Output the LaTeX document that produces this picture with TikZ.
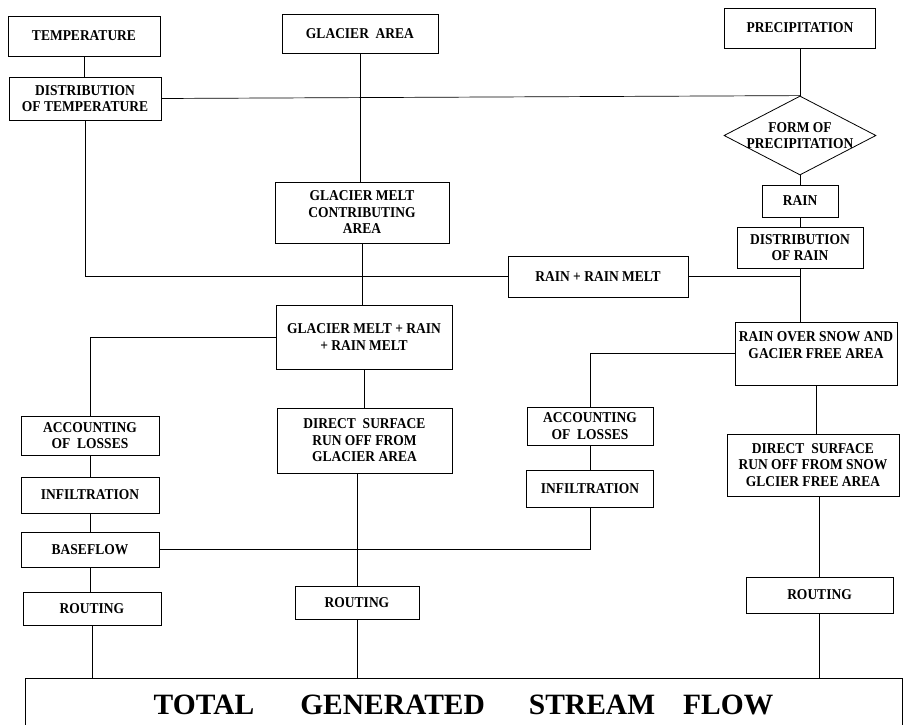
\documentclass[tikz,border=0pt]{standalone}
\usepackage{fontspec}
\setmainfont{Liberation Serif}
\newfontfamily\boxfont{Liberation Serif}[FakeStretch=0.9]
\usetikzlibrary{shapes.geometric}
\tikzset{
  box/.style={draw, line width=0.8pt, inner sep=1pt, align=center,
    font=\boxfont\fontsize{15}{16.5}\selectfont\bfseries},
  conn/.style={draw, line width=0.7pt},
}
\begin{document}
\begin{tikzpicture}[x=1pt,y=-1pt]
\useasboundingbox (0,0) rectangle (903,725);
\clip (0,0) rectangle (903,725);
% nodes
\node[box, minimum width=152, minimum height=40] (temp) at (84,36) {TEMPERATURE};
\node[box, minimum width=156, minimum height=39] (glacier) at (360,33.5) {GLACIER~~AREA};
\node[box, minimum width=151, minimum height=40] (precip) at (800,28) {PRECIPITATION};
\node[box, minimum width=152, minimum height=43] (disttemp) at (85,98.5) {DISTRIBUTION\\OF TEMPERATURE};
\node[draw, line width=0.8pt, shape=diamond, inner sep=0pt, minimum width=152, minimum height=79] (form) at (800,135.5) {};
\node[align=center, inner sep=0pt, font=\boxfont\fontsize{15}{15.5}\selectfont\bfseries] (formtext) at (form.center) {FORM OF\\PRECIPITATION};
\node[box, minimum width=174, minimum height=61] (gmca) at (362,212.5) {GLACIER MELT\\CONTRIBUTING\\AREA};
\node[box, minimum width=76, minimum height=32] (rain) at (800,201) {RAIN};
\node[box, minimum width=126, minimum height=41] (distrain) at (800,247.5) {DISTRIBUTION\\OF RAIN};
\node[box, minimum width=180, minimum height=41] (rrm) at (598,276.5) {RAIN + RAIN MELT};
\node[box, minimum width=176, minimum height=64] (gmrrm) at (364,337) {GLACIER MELT + RAIN\\+ RAIN MELT};
\node[box, minimum width=162, minimum height=63] (rosg) at (816,353.5) {RAIN OVER SNOW AND\\GACIER FREE AREA\\\mbox{}};
\node[box, minimum width=138, minimum height=39] (accL) at (90,435.5) {ACCOUNTING\\OF~~LOSSES};
\node[box, minimum width=175, minimum height=65] (dsrg) at (364.5,440.5) {DIRECT~~SURFACE\\RUN OFF FROM\\GLACIER AREA};
\node[box, minimum width=126, minimum height=38] (accR) at (590,426) {ACCOUNTING\\OF~~LOSSES};
\node[box, minimum width=138, minimum height=36] (infL) at (90,495) {INFILTRATION};
\node[box, minimum width=127, minimum height=37] (infR) at (590,488.5) {INFILTRATION};
\node[box, minimum width=172, minimum height=62] (dsrs) at (813,465) {DIRECT~~SURFACE\\RUN OFF FROM SNOW\\GLCIER FREE AREA};
\node[box, minimum width=138, minimum height=35] (base) at (90,549.5) {BASEFLOW};
\node[box, minimum width=138, minimum height=33] (routL) at (92,608.5) {ROUTING};
\node[box, minimum width=124, minimum height=33] (routM) at (357,602.5) {ROUTING};
\node[box, minimum width=147, minimum height=36] (routR) at (819.5,595) {ROUTING};
\node[draw, line width=0.8pt, inner sep=0pt, minimum width=877, minimum height=54,
  font=\fontsize{29.5}{32}\selectfont\bfseries] (total) at (463.5,705)
  {TOTAL\hspace{46pt}GENERATED\hspace{44pt}STREAM\hspace{28pt}FLOW};
% connectors
\draw[conn] (temp.south) -- (temp.south |- disttemp.north);
\draw[conn] (disttemp.east) -- (form.north);
\draw[conn] (precip.south) -- (form.north);
\draw[conn] (glacier.south) -- (glacier.south |- gmca.north);
\draw[conn] (disttemp.south) |- (rrm.west);
\draw[conn] (gmca.south) -- (gmca.south |- gmrrm.north);
\draw[conn] (rrm.east) -- (rrm.east -| distrain.south);
\draw[conn] (form.south) -- (rain.north);
\draw[conn] (rain.south) -- (distrain.north);
\draw[conn] (distrain.south) -- (distrain.south |- rosg.north);
\draw[conn] (gmrrm.west) -| (accL.north);
\draw[conn] (gmrrm.south) -- (gmrrm.south |- dsrg.north);
\draw[conn] (accL.south) -- (infL.north);
\draw[conn] (infL.south) -- (base.north);
\draw[conn] (base.south) -- (base.south |- routL.north);
\draw[conn] (routL.south) -- (routL.south |- total.north);
\draw[conn] (base.east) -| (infR.south);
\draw[conn] (rosg.west) -| (accR.north);
\draw[conn] (accR.south) -- (infR.north);
\draw[conn] (routM.north |- dsrg.south) -- (routM.north);
\draw[conn] (routM.south) -- (routM.south |- total.north);
\draw[conn] (rosg.south) -- (rosg.south |- dsrs.north);
\draw[conn] (routR.north |- dsrs.south) -- (routR.north);
\draw[conn] (routR.south) -- (routR.south |- total.north);
\end{tikzpicture}
\end{document}
